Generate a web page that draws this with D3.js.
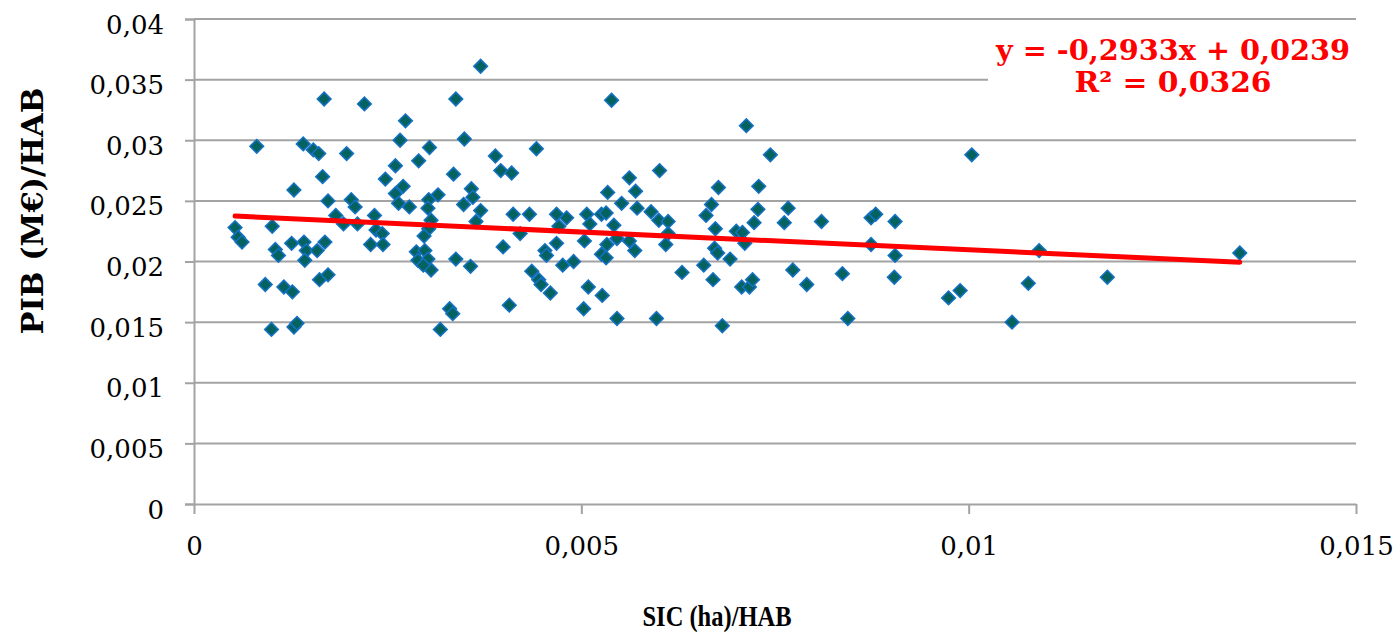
<!DOCTYPE html>
<html>
<head>
<meta charset="utf-8">
<script src="https://cdn.jsdelivr.net/npm/d3@7"></script>
<style>
  body { margin: 0; background: #ffffff; }
  svg { display: block; }
</style>
</head>
<body>
<div id="chart"></div>
<script>
// Scatter chart: PIB (M€)/HAB against SIC (ha)/HAB, with linear trend line

const FRAME_WIDTH = 1400;
const FRAME_HEIGHT = 635;
const MARGINS = {left: 194, right: 44, top: 19, bottom: 131};

const VIS_WIDTH = FRAME_WIDTH - MARGINS.left - MARGINS.right;
const VIS_HEIGHT = FRAME_HEIGHT - MARGINS.top - MARGINS.bottom;

// SIC (ha)/HAB, one value per point
const sicValues = [
  0.00168, 0.00220, 0.00081, 0.00141, 0.00154, 0.00161, 0.00197, 0.00166, 0.00247, 0.00129,
  0.00173, 0.00203, 0.00208, 0.00183, 0.00193, 0.00211, 0.00233, 0.00235, 0.00243, 0.00053,
  0.00057, 0.00062, 0.00101, 0.00105, 0.00109, 0.00126, 0.00142, 0.00145, 0.00143, 0.00159,
  0.00169, 0.00228, 0.00244, 0.00092, 0.00116, 0.00127, 0.00162, 0.00173, 0.00100, 0.00129,
  0.00133,
  0.00370, 0.00338, 0.00273, 0.00266, 0.00304, 0.00349, 0.00290, 0.00260, 0.00335, 0.00389,
  0.00396, 0.00410, 0.00442, 0.00270, 0.00260, 0.00264, 0.00278, 0.00303, 0.00302, 0.00315,
  0.00358, 0.00348, 0.00360, 0.00370, 0.00364, 0.00306, 0.00303, 0.00297, 0.00412, 0.00433,
  0.00421, 0.00468, 0.00481, 0.00471, 0.00507, 0.00511, 0.00526, 0.00532, 0.00287, 0.00298,
  0.00289, 0.00302, 0.00306, 0.00296, 0.00338, 0.00357, 0.00399, 0.00453, 0.00455, 0.00468,
  0.00476, 0.00490, 0.00504, 0.00533, 0.00526, 0.00532, 0.00436, 0.00445, 0.00448, 0.00460,
  0.00509, 0.00527, 0.00330, 0.00334, 0.00407, 0.00503, 0.00318,
  0.00539, 0.00713, 0.00744, 0.00562, 0.00601, 0.00534, 0.00570, 0.00552, 0.00572, 0.00542,
  0.00546, 0.00590, 0.00600, 0.00612, 0.00612, 0.00562, 0.00569, 0.00609, 0.00546, 0.00597,
  0.00677, 0.00668, 0.00661, 0.00673, 0.00672, 0.00676, 0.00692, 0.00630, 0.00658, 0.00670,
  0.00729, 0.00728, 0.00723, 0.00700, 0.00708, 0.00711, 0.00707, 0.00717, 0.00721, 0.00682,
  0.00767, 0.00762, 0.00773, 0.00791, 0.00810,
  0.01004, 0.00874, 0.00880, 0.00905, 0.00874, 0.00905, 0.00904, 0.00837, 0.00844, 0.00974,
  0.00989, 0.01056, 0.01077, 0.01091, 0.01179, 0.01350
];

// PIB (M€)/HAB, same order as sicValues
const pibValues = [
  0.0334, 0.0330, 0.0295, 0.0297, 0.0292, 0.0289, 0.0289, 0.0270, 0.0268, 0.0259,
  0.0250, 0.0251, 0.0245, 0.0238, 0.0231, 0.0231, 0.0238, 0.0226, 0.0223, 0.0228,
  0.0220, 0.0216, 0.0229, 0.0210, 0.0205, 0.0215, 0.0216, 0.0209, 0.0201, 0.0209,
  0.0216, 0.0214, 0.0214, 0.0181, 0.0179, 0.0175, 0.0185, 0.0189, 0.0144, 0.0146,
  0.0149,
  0.0361, 0.0334, 0.0316, 0.0300, 0.0294, 0.0301, 0.0283, 0.0279, 0.0272, 0.0287,
  0.0275, 0.0273, 0.0293, 0.0262, 0.0256, 0.0248, 0.0245, 0.0251, 0.0244, 0.0255,
  0.0260, 0.0247, 0.0253, 0.0242, 0.0233, 0.0234, 0.0227, 0.0221, 0.0239, 0.0239,
  0.0223, 0.0239, 0.0236, 0.0229, 0.0239, 0.0231, 0.0239, 0.0240, 0.0208, 0.0209,
  0.0201, 0.0202, 0.0193, 0.0197, 0.0202, 0.0196, 0.0212, 0.0209, 0.0205, 0.0215,
  0.0197, 0.0200, 0.0217, 0.0214, 0.0206, 0.0203, 0.0192, 0.0185, 0.0181, 0.0174,
  0.0179, 0.0172, 0.0161, 0.0157, 0.0164, 0.0161, 0.0144,
  0.0333, 0.0312, 0.0288, 0.0269, 0.0275, 0.0257, 0.0258, 0.0248, 0.0244, 0.0230,
  0.0219, 0.0241, 0.0234, 0.0233, 0.0223, 0.0217, 0.0209, 0.0214, 0.0153, 0.0153,
  0.0261, 0.0247, 0.0238, 0.0227, 0.0211, 0.0207, 0.0202, 0.0191, 0.0197, 0.0185,
  0.0262, 0.0243, 0.0232, 0.0225, 0.0224, 0.0215, 0.0179, 0.0179, 0.0185, 0.0147,
  0.0244, 0.0232, 0.0193, 0.0181, 0.0233,
  0.0288, 0.0236, 0.0239, 0.0233, 0.0214, 0.0205, 0.0187, 0.0190, 0.0153, 0.0170,
  0.0176, 0.0150, 0.0182, 0.0209, 0.0187, 0.0207
];

// axis ticks
const xTicks = [0, 0.005, 0.01, 0.015];
const yTicks = [0, 0.005, 0.01, 0.015, 0.02, 0.025, 0.03, 0.035, 0.04];

// linear trend shown on the chart
const trendSlope = -0.2933;
const trendIntercept = 0.0239;
const trendR2 = 0.0326;

const points = sicValues.map((d, i) => ({sic: d, pib: pibValues[i]}));

const commaFmt = (v) => String(v).replace(".", ",");

const GRID = "#a3a3a3";

const FRAME = d3.select("#chart").append("svg")
    .attr("width", FRAME_WIDTH)
    .attr("height", FRAME_HEIGHT);

const xSCALE = d3.scaleLinear().domain([0, 0.015]).range([0, VIS_WIDTH]);
const ySCALE = d3.scaleLinear().domain([0, 0.04]).range([VIS_HEIGHT, 0]);

const plot = FRAME.append("g")
    .attr("transform", "translate(" + MARGINS.left + "," + MARGINS.top + ")");

// horizontal gridlines
plot.append("g")
    .selectAll("line")
    .data(yTicks.filter((d) => d > 0))
    .enter()
    .append("line")
    .attr("x1", 0)
    .attr("x2", VIS_WIDTH)
    .attr("y1", (d) => ySCALE(d))
    .attr("y2", (d) => ySCALE(d))
    .style("stroke", GRID)
    .style("stroke-width", 2);

// y axis
const yAxis = plot.append("g")
    .call(d3.axisLeft(ySCALE).tickValues(yTicks).tickSize(9).tickPadding(21).tickFormat(commaFmt));
yAxis.select(".domain").style("stroke", GRID).style("stroke-width", 2);
yAxis.selectAll(".tick line").style("stroke", GRID).style("stroke-width", 2);
yAxis.selectAll("text")
    .attr("dy", null)
    .attr("y", 14)
    .style("font-family", "'DejaVu Serif', serif")
    .style("font-size", "26px")
    .style("fill", "#000");

// x axis
const xAxis = plot.append("g")
    .attr("transform", "translate(0," + VIS_HEIGHT + ")")
    .call(d3.axisBottom(xSCALE).tickValues(xTicks).tickSize(10).tickSizeOuter(0).tickFormat(commaFmt));
xAxis.select(".domain").style("stroke", GRID).style("stroke-width", 2);
xAxis.selectAll(".tick line").style("stroke", GRID).style("stroke-width", 2);
xAxis.selectAll("text")
    .attr("dy", null)
    .attr("y", 51)
    .style("font-family", "'DejaVu Serif', serif")
    .style("font-size", "26px")
    .style("fill", "#000");

// points (diamonds)
const diamond = d3.symbol().type(d3.symbolSquare).size(92);
plot.append("g")
    .selectAll("path")
    .data(points)
    .enter()
    .append("path")
    .attr("d", diamond)
    .attr("transform", (d) => "translate(" + xSCALE(d.sic) + "," + ySCALE(d.pib) + ") rotate(45)")
    .style("fill", "#04625f")
    .style("stroke", "#1471c2")
    .style("stroke-width", 1.6);

// trend line over the data range
const xExtent = d3.extent(sicValues);
plot.append("line")
    .attr("x1", xSCALE(xExtent[0]))
    .attr("y1", ySCALE(trendSlope * xExtent[0] + trendIntercept))
    .attr("x2", xSCALE(xExtent[1]))
    .attr("y2", ySCALE(trendSlope * xExtent[1] + trendIntercept))
    .style("stroke", "#ff0000")
    .style("stroke-width", 5)
    .style("stroke-linecap", "round");

// equation label with white background
FRAME.append("rect")
    .attr("x", 988)
    .attr("y", 27)
    .attr("width", 412)
    .attr("height", 76)
    .style("fill", "#ffffff");

const eqText = "y = " + commaFmt(trendSlope) + "x + " + commaFmt(trendIntercept);
FRAME.append("text")
    .attr("x", 1173)
    .attr("y", 60)
    .attr("text-anchor", "middle")
    .attr("textLength", 354)
    .attr("lengthAdjust", "spacingAndGlyphs")
    .style("font-family", "'DejaVu Serif', serif")
    .style("font-weight", "bold")
    .style("font-size", "28px")
    .style("fill", "#ff0000")
    .text(eqText);

FRAME.append("text")
    .attr("x", 1173)
    .attr("y", 92)
    .attr("text-anchor", "middle")
    .attr("textLength", 197)
    .attr("lengthAdjust", "spacingAndGlyphs")
    .style("font-family", "'DejaVu Serif', serif")
    .style("font-weight", "bold")
    .style("font-size", "28px")
    .style("fill", "#ff0000")
    .text("R² = " + commaFmt(trendR2));

// axis titles
FRAME.append("text")
    .attr("x", 717)
    .attr("y", 626)
    .attr("text-anchor", "middle")
    .attr("textLength", 149)
    .attr("lengthAdjust", "spacingAndGlyphs")
    .style("font-family", "'Liberation Serif', serif")
    .style("font-weight", "bold")
    .style("font-size", "29px")
    .style("fill", "#000")
    .text("SIC (ha)/HAB");

FRAME.append("text")
    .attr("transform", "translate(43,211) rotate(-90)")
    .attr("text-anchor", "middle")
    .attr("textLength", 247)
    .attr("lengthAdjust", "spacingAndGlyphs")
    .style("font-family", "'DejaVu Serif', serif")
    .style("font-weight", "bold")
    .style("font-size", "29px")
    .style("fill", "#000")
    .text("PIB (M€)/HAB");
</script>
</body>
</html>
